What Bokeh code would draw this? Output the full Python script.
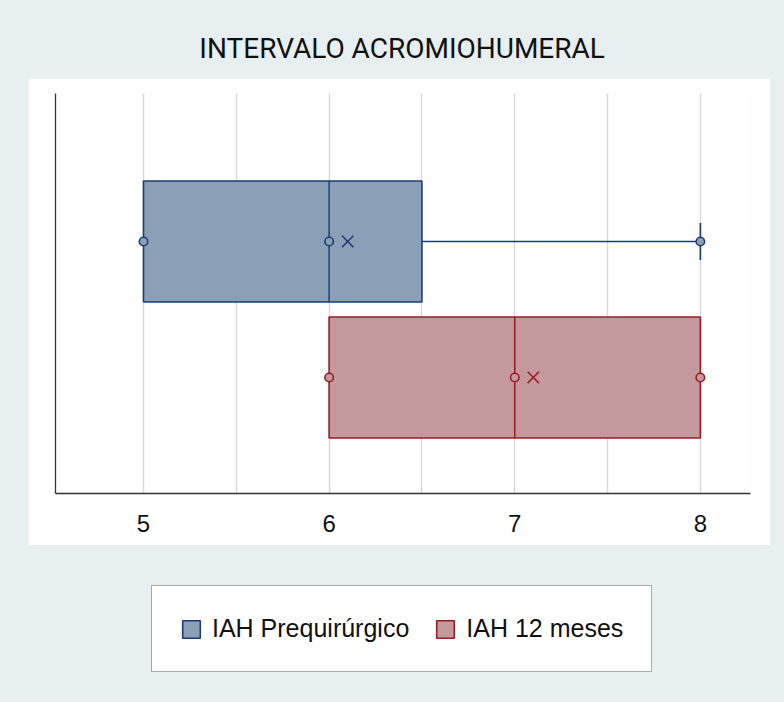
from bokeh.plotting import figure
from bokeh.layouts import column
from bokeh.models import Range1d, FixedTicker, Legend, LegendItem, Label
from bokeh.embed import file_html
from bokeh.resources import INLINE

# ---- data ----
groups = ["IAH Prequirúrgico", "IAH 12 meses"]
mins = [5, 6]
q1s = [5, 6]
medians = [6, 7]
q3s = [6.5, 8]
maxs = [8, 8]
means = [6.1, 7.1]
x_ticks = [5, 6, 7, 8]
grid_ticks = [5, 5.5, 6, 6.5, 7, 7.5, 8]
title_text = "INTERVALO ACROMIOHUMERAL"

# ---- styles ----
GRAY = "#e8eff0"
fills = ["#8aa0b6", "#c4999c"]
lines = ["#1d3c72", "#9a1a24"]
ypos = [2, 1]
half = 0.445
cap = 0.136


def bare(fig):
    fig.border_fill_color = GRAY
    fig.background_fill_color = GRAY
    fig.outline_line_color = None
    fig.grid.visible = False


# ---- title strip (on gray) ----
pt = figure(width=784, height=78, x_range=Range1d(0, 784), y_range=Range1d(0, 78),
            output_backend="svg", toolbar_location=None,
            x_axis_location=None, y_axis_location=None, min_border=0)
bare(pt)
pt.add_layout(Label(x=398.5, y=30.5, text=title_text, text_align="center",
                    text_baseline="middle", text_font="Roboto",
                    text_font_size="28px", text_color="#111111"))

# ---- main chart (white panel) ----
p = figure(width=742, height=467,
           x_range=Range1d(4.526, 8.27), y_range=Range1d(0.147, 3.088),
           output_backend="svg", toolbar_location=None,
           min_border_left=27, min_border_right=20,
           min_border_top=15, min_border_bottom=52)
p.margin = (0, 14, 0, 28)
p.border_fill_color = "white"
p.background_fill_color = "white"
p.outline_line_color = None

p.xaxis.ticker = FixedTicker(ticks=x_ticks)
p.xaxis.major_tick_line_color = None
p.xaxis.minor_tick_line_color = None
p.xaxis.major_label_standoff = 15
p.xaxis.major_label_text_font = "Liberation Sans"
p.xaxis.major_label_text_font_size = "24px"
p.xaxis.major_label_text_color = "#111111"
p.xaxis.axis_line_color = "#333333"
p.xaxis.axis_line_width = 1.3

p.yaxis.ticker = FixedTicker(ticks=[])
p.yaxis.major_tick_line_color = None
p.yaxis.minor_tick_line_color = None
p.yaxis.axis_line_color = "#333333"
p.yaxis.axis_line_width = 1.3

p.xgrid.ticker = FixedTicker(ticks=grid_ticks)
p.xgrid.grid_line_color = "#d8d8d8"
p.xgrid.grid_line_width = 1.5
p.ygrid.visible = False

for i, g in enumerate(groups):
    y = ypos[i]
    fc, lc = fills[i], lines[i]
    p.quad(left=[q1s[i]], right=[q3s[i]], bottom=[y - half], top=[y + half],
           fill_color=fc, fill_alpha=1.0, line_color=lc, line_width=1.6)
    p.segment(x0=[medians[i]], y0=[y - half], x1=[medians[i]], y1=[y + half],
              line_color=lc, line_width=1.5)
    p.segment(x0=[q3s[i], q1s[i]], y0=[y, y], x1=[maxs[i], mins[i]], y1=[y, y],
              line_color=lc, line_width=1.5)
    cx = [v for v, q in ((maxs[i], q3s[i]), (mins[i], q1s[i])) if v != q]
    if cx:
        p.segment(x0=cx, y0=[y - cap] * len(cx), x1=cx, y1=[y + cap] * len(cx),
                  line_color=lc, line_width=1.6)
    p.scatter(x=[mins[i], medians[i], maxs[i]], y=[y] * 3, marker="circle", size=8.5,
              fill_color=fc, line_color=lc, line_width=1.6)
    p.scatter(x=[means[i]], y=[y], marker="x", size=16, line_color=lc, line_width=1.5)

# ---- legend strip (on gray) ----
# the same boxes are drawn here (off the visible range) only to feed the legend swatches
pl = figure(width=784, height=157, x_range=Range1d(0, 1), y_range=Range1d(0, 1),
            output_backend="svg", toolbar_location=None,
            x_axis_location=None, y_axis_location=None, min_border=0)
bare(pl)
items = []
for i, g in enumerate(groups):
    r = pl.quad(left=[q1s[i]], right=[q3s[i]], bottom=[ypos[i] - half], top=[ypos[i] + half],
                fill_color=fills[i], fill_alpha=1.0, line_color=lines[i], line_width=1.6)
    items.append(LegendItem(label=g, renderers=[r]))

legend = Legend(items=items, orientation="horizontal", location=(124, 30),
                padding=28, spacing=25, glyph_width=22, glyph_height=22,
                label_standoff=10, label_height=25, margin=0,
                label_text_font="Liberation Sans", label_text_font_size="25px",
                label_text_color="#111111",
                border_line_color="#555555", border_line_width=1.2,
                background_fill_color="white", background_fill_alpha=1.0)
pl.add_layout(legend, "center")

root = column(pt, p, pl, spacing=0, styles={"background-color": GRAY})

open("out.html", "w").write(file_html(root, INLINE))
